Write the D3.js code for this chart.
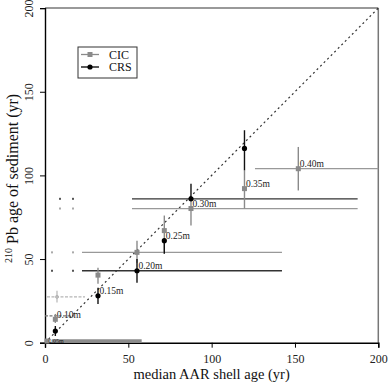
<!DOCTYPE html>
<html>
<head>
<meta charset="utf-8">
<script src="https://cdn.jsdelivr.net/npm/d3@7"></script>
<style>
  body { margin: 0; background: #fff; }
  text { font-family: "Liberation Serif", "DejaVu Serif", serif; }
</style>
</head>
<body>
<div id="chart"></div>
<script>
// Depth labels and median AAR shell ages (yr)
const depths = ['0.05m', '0.10m', '0.15m', '0.20m', '0.25m', '0.30m', '0.35m', '0.40m'];
const shellAge = [1.2, 6.2, 31.8, 55.2, 71.6, 87.6, 119.7, 152];

// CIC 210Pb ages with vertical error limits
const cicAge = [1, 14.0, 40.4, 54.0, 67, 80.2, 92.1, 104];
const cicLo = [null, 11.8, 35.2, 47.8, 53.2, 70, 80.2, 91];
const cicHi = [null, 17.2, 44.8, 61, 76, 86, 103, 117];

// CRS 210Pb ages with vertical error limits
const crsAge = [null, 7.0, 28.0, 43.0, 61, 86.0, 116.1, null];
const crsLo = [null, 4, 23.2, 35.8, 53.2, 86, 103, null];
const crsHi = [null, 10, 32.8, 50, 61, 95, 127, null];

// shell age ranges (horizontal bars) and the age they are drawn at
const cicRangeY = [1, 16, null, 54.0, null, 80.2, null, 104];
const cicRangeLo = [4.2, 0, null, 22.2, null, 52.2, null, 126];
const cicRangeHi = [58, 17.4, null, 142.2, null, 187.6, null, 200];
const crsRangeLo = [null, null, null, 22.2, null, 52.2, null, null];
const crsRangeHi = [null, null, null, 142.2, null, 187.6, null, null];

// stray outlier marks left of the range bars
const tailX = [[], [], [], [4.2, 16.8], [], [9, 16.8], [], []];

// pale extra cross near the origin
const extraX = [7.2], extraY = [27.4];
const extraXLo = [1.2], extraXHi = [24];
const extraYLo = [24], extraYHi = [31];

const ticks = [0, 50, 100, 150, 200];

const width = 388, height = 383;
const margin = {left: 45, right: 10, top: 8, bottom: 41};

const svg = d3.select('#chart').append('svg')
    .attr('width', width)
    .attr('height', height);

const x = d3.scaleLinear().domain([0, 200]).range([margin.left, width - margin.right + 0.3]);
const y = d3.scaleLinear().domain([0, 200]).range([height - margin.bottom + 0.7, margin.top + 0.1]);

const grayC = '#8a8a8a';
const lightC = '#b5b5b5';

// frame: top and right in gray
svg.append('line')
    .attr('x1', x(0)).attr('x2', x(200)).attr('y1', y(200)).attr('y2', y(200))
    .attr('stroke', '#777').attr('stroke-width', 1.5);
svg.append('line')
    .attr('x1', x(200)).attr('x2', x(200)).attr('y1', y(0)).attr('y2', y(200))
    .attr('stroke', '#777').attr('stroke-width', 1.5);

// 1:1 line
svg.append('line')
    .attr('x1', x(0)).attr('y1', y(0)).attr('x2', x(200)).attr('y2', y(200))
    .attr('stroke', '#333').attr('stroke-width', 1.2)
    .attr('stroke-dasharray', '2,3');

// axes
const xAxis = svg.append('g')
    .attr('transform', `translate(0,${y(0)})`)
    .call(d3.axisBottom(x).tickValues(ticks).tickSize(5).tickPadding(7));
const yAxis = svg.append('g')
    .attr('transform', `translate(${x(0)},0)`)
    .call(d3.axisLeft(y).tickValues(ticks).tickSize(5).tickPadding(4));

[xAxis, yAxis].forEach(ax => {
    ax.select('.domain').attr('stroke', '#000').attr('stroke-width', 1.4);
    ax.selectAll('.tick line').attr('stroke', '#000');
    ax.selectAll('.tick text')
        .style('font-family', '"Liberation Serif", serif')
        .style('font-size', '12px')
        .attr('fill', '#222');
});

// rotated y tick labels
yAxis.selectAll('.tick text')
    .attr('text-anchor', 'middle')
    .attr('x', 0).attr('dy', 0)
    .attr('transform', 'translate(-12,0) rotate(-90)');

// axis titles
svg.append('text')
    .attr('x', (x(0) + x(200)) / 2)
    .attr('y', 379)
    .attr('text-anchor', 'middle')
    .style('font-size', '14.5px')
    .attr('fill', '#111')
    .text('median AAR shell age (yr)');

const yTitle = svg.append('text')
    .attr('transform', `translate(18,${(y(0) + y(200)) / 2 + 3}) rotate(-90)`)
    .attr('text-anchor', 'middle')
    .style('font-size', '16px')
    .attr('fill', '#111');
yTitle.append('tspan').attr('dy', -6).style('font-size', '10px').text('210');
yTitle.append('tspan').attr('dy', 6).text(' Pb age of sediment (yr)');

const plot = svg.append('g');

// pale extra cross
extraX.forEach((v, i) => {
    plot.append('line')
        .attr('x1', x(extraXLo[i])).attr('x2', x(extraXHi[i]))
        .attr('y1', y(extraY[i])).attr('y2', y(extraY[i]))
        .attr('stroke', lightC).attr('stroke-width', 1.2).attr('stroke-dasharray', '3,1.5');
    plot.append('line')
        .attr('x1', x(v)).attr('x2', x(v))
        .attr('y1', y(extraYLo[i])).attr('y2', y(extraYHi[i]))
        .attr('stroke', lightC).attr('stroke-width', 1.2);
    plot.append('circle')
        .attr('cx', x(v)).attr('cy', y(extraY[i])).attr('r', 1.5)
        .attr('fill', 'none').attr('stroke', lightC);
});

// horizontal shell-age ranges
depths.forEach((d, i) => {
    if (cicRangeLo[i] !== null) {
        const isAxis = i === 0;
        const isDotted = i === 1;
        plot.append('line')
            .attr('x1', x(cicRangeLo[i])).attr('x2', x(cicRangeHi[i]))
            .attr('y1', y(cicRangeY[i])).attr('y2', y(cicRangeY[i]))
            .attr('stroke', isAxis ? '#8c8c8c' : (isDotted ? '#777' : '#999'))
            .attr('stroke-width', isAxis ? 3.5 : 1.3)
            .attr('stroke-dasharray', isDotted ? '3,1.5' : null);
    }
    if (crsRangeLo[i] !== null) {
        plot.append('line')
            .attr('x1', x(crsRangeLo[i])).attr('x2', x(crsRangeHi[i]))
            .attr('y1', y(crsAge[i])).attr('y2', y(crsAge[i]))
            .attr('stroke', '#333').attr('stroke-width', 1.3);
    }
    tailX[i].forEach(t => {
        [[cicAge[i], '#aaa'], [crsAge[i], '#555']].forEach(([a, c]) => {
            if (a === null) return;
            plot.append('rect')
                .attr('x', x(t) - 1).attr('y', y(a) - 1)
                .attr('width', 2).attr('height', 2)
                .attr('fill', c);
        });
    });
});

// vertical error bars
depths.forEach((d, i) => {
    if (cicLo[i] !== null) {
        plot.append('line')
            .attr('x1', x(shellAge[i])).attr('x2', x(shellAge[i]))
            .attr('y1', y(cicLo[i])).attr('y2', y(cicHi[i]))
            .attr('stroke', grayC).attr('stroke-width', 1.4);
    }
    if (crsLo[i] !== null) {
        plot.append('line')
            .attr('x1', x(shellAge[i])).attr('x2', x(shellAge[i]))
            .attr('y1', y(crsLo[i])).attr('y2', y(crsHi[i]))
            .attr('stroke', '#111').attr('stroke-width', 1.4);
    }
});

// CIC points (gray squares)
depths.forEach((d, i) => {
    plot.append('rect')
        .attr('x', x(shellAge[i]) - 2.5).attr('y', y(cicAge[i]) - 2.5)
        .attr('width', 5).attr('height', 5)
        .attr('fill', grayC);
});

// CRS points (black circles)
depths.forEach((d, i) => {
    if (crsAge[i] === null) return;
    plot.append('circle')
        .attr('cx', x(shellAge[i])).attr('cy', y(crsAge[i])).attr('r', 2.6)
        .attr('fill', '#000');
});

// depth labels, set just above the lower of the two points
depths.forEach((d, i) => {
    const lower = i === 1 ? cicAge[i] : Math.min(cicAge[i], crsAge[i] === null ? Infinity : crsAge[i]);
    plot.append('text')
        .attr('x', x(shellAge[i]) + 1.5)
        .attr('y', y(lower) + (i === 0 ? 2 : -1.5))
        .style('font-size', i === 0 ? '6px' : '9.5px')
        .attr('fill', '#222')
        .text(d);
});

// legend
const lg = svg.append('g').attr('transform', `translate(${78},${47})`);
lg.append('rect')
    .attr('width', 59).attr('height', 31)
    .attr('fill', '#fff').attr('stroke', '#333').attr('stroke-width', 1);
[['CIC', grayC, 'rect'], ['CRS', '#000', 'circle']].forEach(([name, c, shape], k) => {
    const ry = 7.5 + k * 12.5;
    lg.append('line')
        .attr('x1', 3).attr('x2', 21).attr('y1', ry).attr('y2', ry)
        .attr('stroke', c).attr('stroke-width', 1.3);
    if (shape === 'rect') {
        lg.append('rect').attr('x', 9.5).attr('y', ry - 2.5).attr('width', 5).attr('height', 5).attr('fill', c);
    } else {
        lg.append('circle').attr('cx', 12).attr('cy', ry).attr('r', 2.6).attr('fill', c);
    }
    lg.append('text')
        .attr('x', 31).attr('y', ry + 4)
        .style('font-size', '12px')
        .attr('fill', '#111')
        .text(name);
});
</script>
</body>
</html>
